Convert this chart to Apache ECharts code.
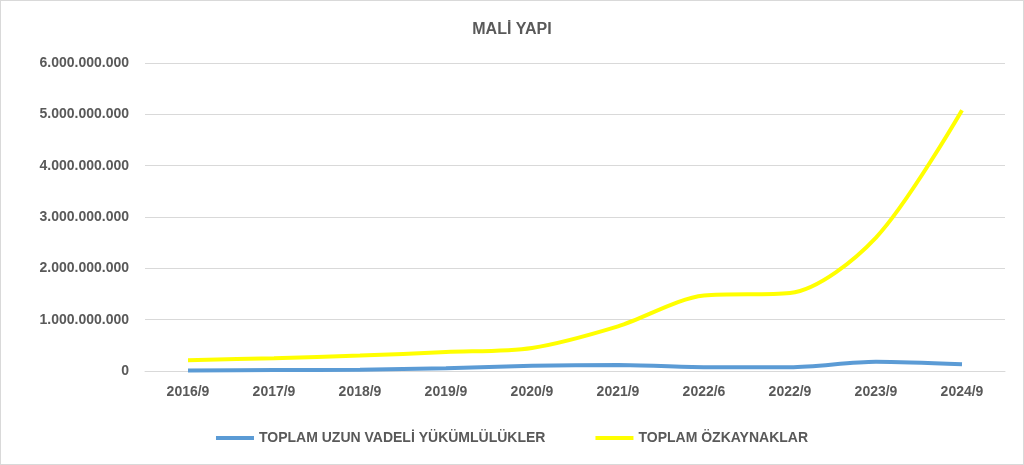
<!DOCTYPE html>
<html><head><meta charset="utf-8">
<script src="https://cdn.jsdelivr.net/npm/echarts@6/dist/echarts.min.js"></script>
<style>html,body{margin:0;padding:0;background:#fff}#c{width:1024px;height:465px;box-sizing:border-box;border:1px solid #d9d9d9}</style>
</head><body><div id="c"></div>
<script>
const categories=['2016/9','2017/9','2018/9','2019/9','2020/9','2021/9','2022/6','2022/9','2023/9','2024/9'];
const uzunVadeli=[10e6,20e6,25e6,55e6,100e6,115e6,75e6,75e6,180e6,130e6];
const ozkaynaklar=[210e6,250e6,300e6,370e6,450e6,870e6,1470e6,1520e6,2600e6,5080e6];
const fmt=v=>String(Math.round(v)).replace(/\B(?=(\d{3})+(?!\d))/g,'.');
const font='"Liberation Sans", Arial, sans-serif';
const chart=echarts.init(document.getElementById('c'));
chart.setOption({
  animation:false,
  title:{text:'MALİ YAPI',left:'center',top:16,textStyle:{fontFamily:font,fontSize:16,fontWeight:'bold',color:'#595959'}},
  grid:{left:144,right:18,top:62,bottom:93},
  legend:{bottom:14,itemWidth:38,itemHeight:4,itemGap:50,icon:'rect',
    textStyle:{fontFamily:font,fontSize:14,fontWeight:'bold',color:'#595959'}},
  xAxis:{type:'category',data:categories,boundaryGap:true,
    axisLine:{lineStyle:{color:'#d9d9d9'}},axisTick:{show:false},
    axisLabel:{fontFamily:font,fontSize:14,fontWeight:'bold',color:'#595959',margin:14}},
  yAxis:{type:'value',min:0,max:6e9,interval:1e9,
    axisLabel:{formatter:fmt,fontFamily:font,fontSize:14,fontWeight:'bold',color:'#595959',margin:16},
    splitLine:{lineStyle:{color:'#d9d9d9'}}},
  series:[
    {name:'TOPLAM UZUN VADELİ YÜKÜMLÜLÜKLER',type:'line',smooth:0.3,data:uzunVadeli,showSymbol:false,
     lineStyle:{width:4,color:'#5b9bd5'},itemStyle:{color:'#5b9bd5'}},
    {name:'TOPLAM ÖZKAYNAKLAR',type:'line',smooth:0.3,data:ozkaynaklar,showSymbol:false,
     lineStyle:{width:4,color:'#ffff00'},itemStyle:{color:'#ffff00'}}
  ]
});
</script></body></html>
